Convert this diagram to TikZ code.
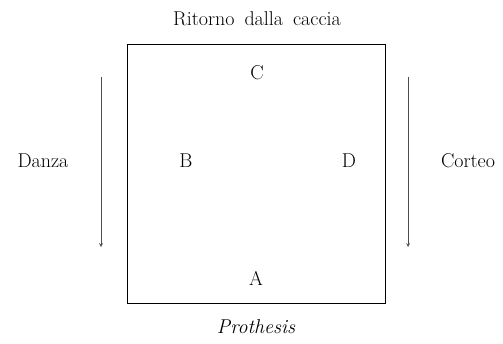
\documentclass[tikz,border=0pt]{standalone}
\usetikzlibrary{arrows,positioning}

\begin{document}
\begin{tikzpicture}[x=1pt,y=-1pt,
  lab/.style={font=\fontsize{20}{24}\selectfont,inner sep=0pt,text height=14pt,text depth=4pt},
  side/.style={line width=.7pt,black!70,-stealth}]
  \useasboundingbox (0,0) rectangle (503,343);
  \draw[line width=1pt] (127,44) rectangle (385,303);

  \node[lab] (top) at (257,20) {Ritorno\hspace{10pt}dalla\hspace{10pt}caccia};
  \node[lab] (bottom) at (256,328) {\itshape Prothesis};
  \node[lab] (left) at (43,162) {Danza};
  \node[lab] (right) at (468,162) {Corteo};

  \node[lab] (C) at (257,74) {C};
  \node[lab] (B) at (186,162) {B};
  \node[lab] (D) at (349,162) {D};
  \node[lab] (A) at (256,280) {A};

  \coordinate (ltop) at (101,77);
  \coordinate (lbot) at (101,247);
  \coordinate (rtop) at (408,77);
  \coordinate (rbot) at (408,247);
  \draw[side] (ltop) -- (lbot);
  \draw[side] (rtop) -- (rbot);
\end{tikzpicture}
\end{document}
